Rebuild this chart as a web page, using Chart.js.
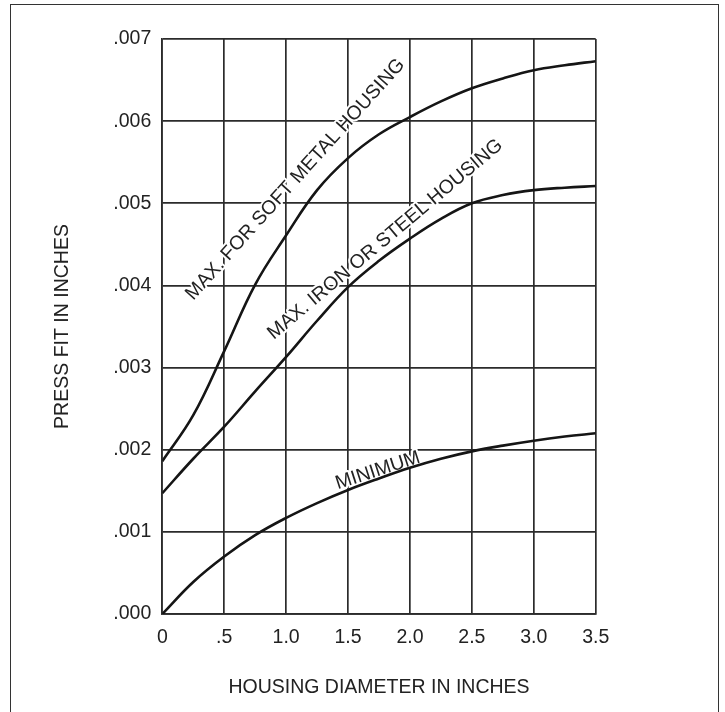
<!DOCTYPE html>
<html>
<head>
<meta charset="utf-8">
<title>Press Fit vs Housing Diameter</title>
<script src="https://cdn.jsdelivr.net/npm/chart.js@4.4.1/dist/chart.umd.min.js"></script>
<style>
  html, body { margin: 0; padding: 0; background: #fff; }
  #wrap { position: relative; width: 725px; height: 712px; overflow: hidden; }
  #frame {
    position: absolute; left: 10px; top: 4px; width: 709px; height: 760px;
    border: 1.5px solid #333; box-sizing: border-box;
  }
  #chart { position: absolute; left: 0; top: 0; }
</style>
</head>
<body>
<div id="wrap">
  <div id="frame"></div>
  <canvas id="chart" width="725" height="712"></canvas>
</div>
<script>
// housing diameter (in.) and press fit (in.) for each curve
const diameters     = [0, 0.25, 0.5, 0.75, 1.0, 1.25, 1.5, 1.75, 2.0, 2.25, 2.5, 2.75, 3.0, 3.25, 3.5];
const maxSoftMetal  = [0.00186, 0.00242, 0.00320, 0.00401, 0.00461, 0.00516, 0.00555, 0.00584, 0.00605, 0.00624, 0.00640, 0.00652, 0.00662, 0.00668, 0.00673];
const maxIronSteel  = [0.00147, 0.00189, 0.00228, 0.00271, 0.00313, 0.00357, 0.00398, 0.00430, 0.00457, 0.00481, 0.00500, 0.00510, 0.00516, 0.00519, 0.00521];
const minimumFit    = [0.00000, 0.00039, 0.00070, 0.00096, 0.00117, 0.00135, 0.00151, 0.00165, 0.00178, 0.00189, 0.00198, 0.00205, 0.00211, 0.00216, 0.00220];

const xTickLabels = ["0", ".5", "1.0", "1.5", "2.0", "2.5", "3.0", "3.5"];
const yTickLabels = [".000", ".001", ".002", ".003", ".004", ".005", ".006", ".007"];

// text written along the curves, anchored in data units
const curveLabels = [
  { text: "MAX. FOR SOFT METAL HOUSING",  x: 1.075, y: 0.00529,  angle: 48 },
  { text: "MAX. IRON OR STEEL HOUSING",   x: 1.800, y: 0.00456,  angle: 40 },
  { text: "MINIMUM",                      x: 1.741, y: 0.001745, angle: 18 }
];

const FONT = '"Liberation Sans", Arial, Helvetica, sans-serif';
const INK = "#222";
const GRID = "#2b2b2b";

const toPoints = (ys) => diameters.map((d, i) => ({ x: d, y: ys[i] }));

const curveStyle = {
  borderColor: "#151515",
  borderWidth: 2.6,
  pointRadius: 0,
  fill: false,
  tension: 0.4
};

// labels go under the curves but over the grid, with a thin white halo
const curveLabelPlugin = {
  id: "curveLabels",
  beforeDatasetsDraw(chart) {
    const { ctx, scales: { x, y } } = chart;
    ctx.save();
    ctx.font = "19.5px " + FONT;
    ctx.textAlign = "center";
    ctx.textBaseline = "middle";
    ctx.lineJoin = "round";
    curveLabels.forEach((l) => {
      ctx.save();
      ctx.translate(x.getPixelForValue(l.x), y.getPixelForValue(l.y));
      ctx.rotate(-l.angle * Math.PI / 180);
      ctx.lineWidth = 4;
      ctx.strokeStyle = "#fff";
      ctx.strokeText(l.text, 0, 0);
      ctx.fillStyle = INK;
      ctx.fillText(l.text, 0, 0);
      ctx.restore();
    });
    ctx.restore();
  }
};

new Chart(document.getElementById("chart"), {
  type: "line",
  data: {
    datasets: [
      { label: "Max. for soft metal housing", data: toPoints(maxSoftMetal), ...curveStyle },
      { label: "Max. iron or steel housing",  data: toPoints(maxIronSteel), ...curveStyle },
      { label: "Minimum",                     data: toPoints(minimumFit),   ...curveStyle }
    ]
  },
  options: {
    responsive: false,
    animation: false,
    layout: {
      padding: { top: 39, right: 129.3, bottom: 0, left: 0 }
    },
    scales: {
      x: {
        type: "linear",
        min: 0,
        max: 3.5,
        ticks: {
          stepSize: 0.5,
          padding: 12.3,
          color: INK,
          font: { family: FONT, size: 19.5 },
          callback: function(value, index) {
            return xTickLabels[index];
          }
        },
        grid: { color: GRID, lineWidth: 1.7, drawTicks: false },
        border: { display: true, color: GRID, width: 1.7 },
        title: {
          display: true,
          text: "HOUSING DIAMETER IN INCHES",
          color: INK,
          font: { family: FONT, size: 19.5 },
          padding: { top: 0, bottom: 12.3 }
        },
        afterFit: function(scale) {
          scale.height = 98;
        }
      },
      y: {
        type: "linear",
        min: 0,
        max: 0.007,
        ticks: {
          stepSize: 0.001,
          padding: 11,
          color: INK,
          font: { family: FONT, size: 19.5 },
          callback: function(value, index) {
            return yTickLabels[index];
          }
        },
        grid: { color: GRID, lineWidth: 1.7, drawTicks: false },
        border: { display: true, color: GRID, width: 1.7 },
        title: {
          display: true,
          text: "PRESS FIT IN INCHES",
          color: INK,
          font: { family: FONT, size: 19.5 },
          padding: { top: 51.3, bottom: 0 }
        },
        afterFit: function(scale) {
          scale.width = 162.3;
        }
      }
    },
    plugins: {
      legend: { display: false },
      tooltip: { enabled: false }
    }
  },
  plugins: [curveLabelPlugin]
});
</script>
</body>
</html>
